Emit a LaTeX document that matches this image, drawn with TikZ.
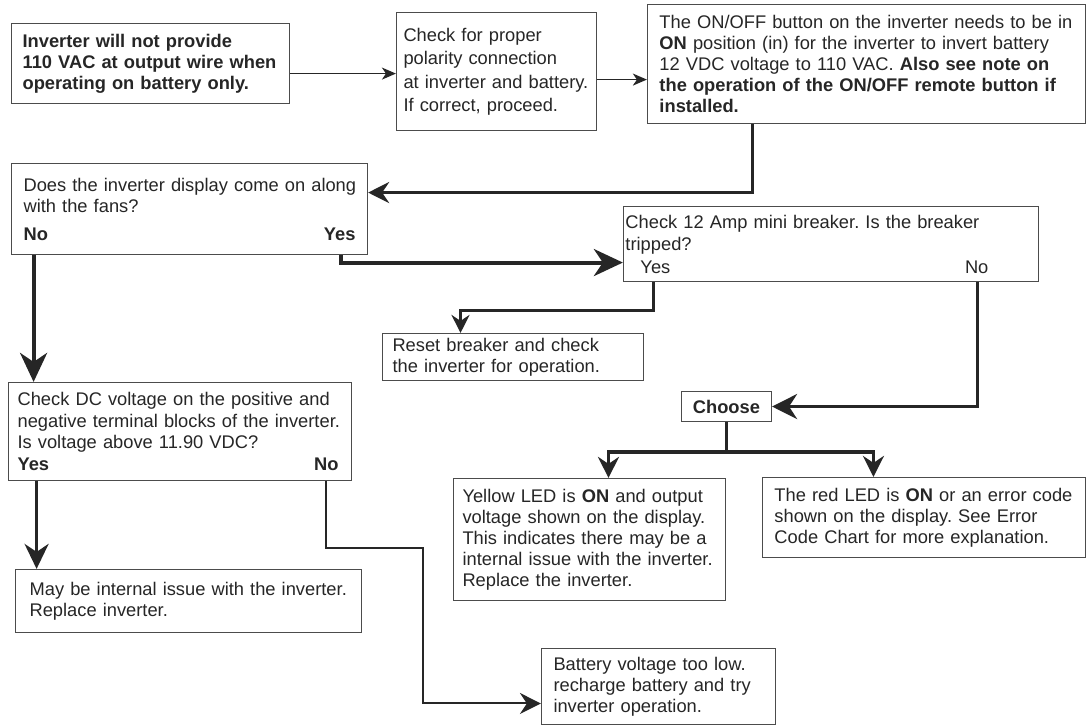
\documentclass[tikz,border=0pt]{standalone}
\usepackage{fontspec}
\setmainfont{Liberation Sans}
\usetikzlibrary{arrows.meta}
\definecolor{boxline}{gray}{0.3}
\definecolor{ink}{gray}{0.15}
\newcommand{\boxfont}{\fontsize{18.3}{21}\selectfont\frenchspacing}

\begin{document}
\begin{tikzpicture}[
  x=1pt, y=-1pt,
  box/.style={draw=boxline, line width=1.2pt, anchor=north west, align=left, text=ink, inner ysep=2pt, font=\boxfont},
  thinarr/.style={draw=ink, line width=1.5pt, -{Stealth[length=14pt,width=12pt,inset=4pt]}},
  midarr/.style={draw=ink, line width=3pt, -{Stealth[length=21pt,width=21pt,inset=7pt]}},
  bigarr/.style={draw=ink, line width=4pt, -{Stealth[length=29pt,width=27pt,inset=9pt]}},
  wire/.style={draw=ink, line width=3.5pt}
]
\fill[white] (0,0) rectangle (1086,726);
% boxes
\node[box, inner xsep=11pt, text width=256pt, minimum height=80pt, font=\boxfont\bfseries] (start) at (11,23)
  {Inverter will not provide\\110 VAC at output wire when\\operating on battery only.};
\node[box, inner xsep=7pt, text width=186pt, minimum height=118pt, font=\fontsize{18.3}{23.5}\selectfont] (polarity) at (396,12)
  {Check for proper\\polarity connection\\at inverter and battery.\\If correct, proceed.};
\node[box, inner xsep=12pt, text width=414pt, minimum height=119pt] (onoff) at (647,4)
  {The ON/OFF button on the inverter needs to be in\\\textbf{ON} position (in) for the inverter to invert battery\\12 VDC voltage to 110 VAC. \textbf{Also see note on\\the operation of the ON/OFF remote button if\\installed.}};
\node[box, inner xsep=8pt, text width=340pt, minimum height=91pt] (fans) at (11,163)
  {\hspace*{4pt}Does the inverter display come on along\\\hspace*{4pt}with the fans?\\[7pt]\hspace*{4pt}\textbf{No}\hfill\textbf{Yes}\hspace*{4pt}};
\node[box, inner xsep=2pt, text width=411pt, minimum height=75pt, font=\fontsize{18.3}{22.5}\selectfont\frenchspacing] (breaker) at (623,206)
  {Check 12 Amp mini breaker. Is the breaker\\tripped?\\\hspace*{15pt}Yes\hfill No\hspace*{48pt}};
\node[box, inner xsep=10pt, text width=241pt, minimum height=47pt] (reset) at (382,333)
  {Reset breaker and check\\the inverter for operation.};
\node[box, inner xsep=0pt, text width=90pt, minimum height=30pt, align=center, font=\boxfont\bfseries] (choose) at (681,391)
  {Choose};
\node[box, inner xsep=9pt, text width=325pt, minimum height=98pt, font=\fontsize{18.3}{21.7}\selectfont\frenchspacing] (dcv) at (8,382)
  {Check DC voltage on the positive and\\negative terminal blocks of the inverter.\\Is voltage above 11.90 VDC?\\\textbf{Yes}\hfill\textbf{No}\hspace*{4pt}};
\node[box, inner xsep=9pt, text width=254pt, minimum height=122pt] (yellow) at (453,478)
  {Yellow LED is \textbf{ON} and output\\voltage shown on the display.\\This indicates there may be a\\internal issue with the inverter.\\Replace the inverter.};
\node[box, inner xsep=12pt, text width=299pt, minimum height=80pt] (red) at (762,477)
  {The red LED is \textbf{ON} or an error code\\shown on the display. See Error\\Code Chart for more explanation.};
\node[box, inner xsep=14pt, text width=318pt, minimum height=63pt] (internal) at (15,569)
  {May be internal issue with the inverter.\\Replace inverter.};
\node[box, inner xsep=12pt, text width=210pt, minimum height=76pt] (battery) at (541,648)
  {Battery voltage too low.\\recharge battery and try\\inverter operation.};
% connectors
\draw[thinarr] ([yshift=-10pt]start.east) -- ([yshift=-10pt]start.east -| polarity.west);
\draw[thinarr] ([yshift=-8pt]polarity.east) -- ([yshift=-8pt]polarity.east -| onoff.west);
\draw[midarr, line width=3.5pt] ([xshift=-114pt]onoff.south) |- ([yshift=16.5pt]fans.east);
\draw[bigarr] ([xshift=-156pt]fans.south) -- ([xshift=-156pt]fans.south |- dcv.north);
\draw[bigarr] ([xshift=151pt]fans.south) |- ([yshift=-18.5pt]breaker.west);
\draw[midarr, -{Stealth[length=18pt,width=18pt,inset=6pt]}] ([xshift=-177.5pt]breaker.south) -- ++(0,28) -| ([xshift=-52.5pt]reset.north);
\draw[midarr, line width=3.5pt, -{Stealth[length=25pt,width=25pt,inset=8pt]}] ([xshift=146.5pt]breaker.south) |- (choose.east);
\draw[wire] (choose.south) -- ++(0,30) coordinate (split);
\draw[midarr, line width=3.5pt] (split) -| ([xshift=19pt]yellow.north);
\draw[midarr, line width=3.5pt] (split) -| ([xshift=-50.5pt]red.north);
\draw[midarr, -{Stealth[length=25pt,width=24pt,inset=8pt]}] ([xshift=-143.5pt]dcv.south) -- ([xshift=-143.5pt]dcv.south |- internal.north);
\draw[midarr, line width=2pt] ([xshift=145.5pt]dcv.south) -- ++(0,67) -- ++(97,0) |- ([yshift=-17pt]battery.west);
\end{tikzpicture}
\end{document}
